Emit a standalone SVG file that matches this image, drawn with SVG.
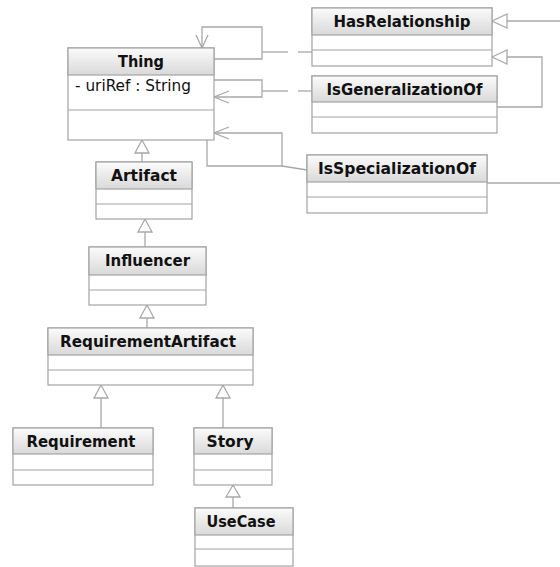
<svg xmlns="http://www.w3.org/2000/svg" width="560" height="567" viewBox="0 0 560 567">
  <defs>
    <linearGradient id="hdr" x1="0" y1="0" x2="0" y2="1">
      <stop offset="0" stop-color="#fbfbfb"/>
      <stop offset="1" stop-color="#d9d9d9"/>
    </linearGradient>
    <style>
      .box { fill: #ffffff; stroke: #a3a3a3; stroke-width: 1.2; }
      .head { fill: url(#hdr); stroke: #a3a3a3; stroke-width: 1.2; }
      .sep { stroke: #a3a3a3; stroke-width: 1.2; }
      .name { font-family: "DejaVu Sans", Verdana, sans-serif; font-weight: bold; font-size: 15px; fill: #111111; text-anchor: middle; }
      .attr { font-family: "DejaVu Sans", Verdana, sans-serif; font-size: 15px; fill: #111111; }
      .edge { fill: none; stroke: #a8a8a8; stroke-width: 1.3; }
      .tri { fill: #ffffff; stroke: #a8a8a8; stroke-width: 1.3; }
    </style>
  </defs>

  <rect width="560" height="567" fill="#ffffff"/>

  <!-- connectors -->
  <g id="connectors">
    <!-- Thing self association 1 (HasRelationship) -->
    <polyline class="edge" points="214,59 262,59 262,27 202,27 202,48"/>
    <polyline class="edge" points="196,35 202,48 208,35"/>
    <line class="edge" x1="262" y1="52" x2="288" y2="52"/>
    <line class="edge" x1="298" y1="52" x2="312" y2="52"/>
    <!-- Thing self association 2 (IsGeneralizationOf) -->
    <polyline class="edge" points="214,80 262,80 262,97 214,97"/>
    <polyline class="edge" points="229,91 214,97 229,103"/>
    <line class="edge" x1="262" y1="91" x2="288" y2="91"/>
    <line class="edge" x1="298" y1="91" x2="312" y2="91"/>
    <!-- Thing self association 3 (IsSpecializationOf) -->
    <polyline class="edge" points="207,140 207,166 282,166 282,133 214,133"/>
    <polyline class="edge" points="229,127 214,133 229,139"/>
    <line class="edge" x1="282" y1="166" x2="307" y2="170"/>

    <!-- generalizations -->
    <line class="edge" x1="142" y1="153" x2="142" y2="162"/>
    <polygon class="tri" points="142,140 135,153 149,153"/>
    <line class="edge" x1="145" y1="232" x2="145" y2="247"/>
    <polygon class="tri" points="145,219 138,232 152,232"/>
    <line class="edge" x1="147" y1="318" x2="147" y2="328"/>
    <polygon class="tri" points="147,305 140,318 154,318"/>
    <line class="edge" x1="101" y1="398" x2="101" y2="428"/>
    <polygon class="tri" points="101,385 94,398 108,398"/>
    <line class="edge" x1="223" y1="398" x2="223" y2="428"/>
    <polygon class="tri" points="223,385 216,398 230,398"/>
    <line class="edge" x1="233" y1="497" x2="233" y2="508"/>
    <polygon class="tri" points="233,485 226,497 240,497"/>

    <line class="edge" x1="507" y1="21" x2="560" y2="21"/>
    <polygon class="tri" points="492,21 507,14 507,28"/>
    <polyline class="edge" points="507,57 542,57 542,107 497,107"/>
    <polygon class="tri" points="492,57 507,50 507,64"/>
    <line class="edge" x1="487" y1="183" x2="560" y2="183"/>
  </g>

  <!-- classes -->
  <g id="HasRelationship">
    <rect class="box" x="312" y="8" width="180" height="58"/>
    <rect class="head" x="312" y="8" width="180" height="27"/>
    <line class="sep" x1="312" y1="50" x2="492" y2="50"/>
    <text class="name" x="402" y="27" textLength="137" lengthAdjust="spacingAndGlyphs">HasRelationship</text>
  </g>

  <g id="IsGeneralizationOf">
    <rect class="box" x="312" y="76" width="185" height="57"/>
    <rect class="head" x="312" y="76" width="185" height="26"/>
    <line class="sep" x1="312" y1="117" x2="497" y2="117"/>
    <text class="name" x="404.5" y="95" textLength="156" lengthAdjust="spacingAndGlyphs">IsGeneralizationOf</text>
  </g>

  <g id="IsSpecializationOf">
    <rect class="box" x="307" y="155" width="180" height="58"/>
    <rect class="head" x="307" y="155" width="180" height="27"/>
    <line class="sep" x1="307" y1="197" x2="487" y2="197"/>
    <text class="name" x="397" y="174" textLength="158" lengthAdjust="spacingAndGlyphs">IsSpecializationOf</text>
  </g>

  <g id="Thing">
    <rect class="box" x="68" y="48" width="146" height="92"/>
    <rect class="head" x="68" y="48" width="146" height="27"/>
    <line class="sep" x1="68" y1="110" x2="214" y2="110"/>
    <text class="name" x="141" y="67" textLength="46" lengthAdjust="spacingAndGlyphs">Thing</text>
    <text class="attr" x="75" y="91" textLength="116" lengthAdjust="spacingAndGlyphs">- uriRef : String</text>
  </g>

  <g id="Artifact">
    <rect class="box" x="96" y="162" width="96" height="57"/>
    <rect class="head" x="96" y="162" width="96" height="27"/>
    <line class="sep" x1="96" y1="204" x2="192" y2="204"/>
    <text class="name" x="144" y="181" textLength="66" lengthAdjust="spacingAndGlyphs">Artifact</text>
  </g>

  <g id="Influencer">
    <rect class="box" x="89" y="247" width="117" height="58"/>
    <rect class="head" x="89" y="247" width="117" height="28"/>
    <line class="sep" x1="89" y1="290" x2="206" y2="290"/>
    <text class="name" x="147.5" y="266" textLength="85" lengthAdjust="spacingAndGlyphs">Influencer</text>
  </g>

  <g id="RequirementArtifact">
    <rect class="box" x="48" y="328" width="205" height="57"/>
    <rect class="head" x="48" y="328" width="205" height="27"/>
    <line class="sep" x1="48" y1="370" x2="253" y2="370"/>
    <text class="name" x="148" y="347" textLength="176" lengthAdjust="spacingAndGlyphs">RequirementArtifact</text>
  </g>

  <g id="Requirement">
    <rect class="box" x="13" y="428" width="140" height="57"/>
    <rect class="head" x="13" y="428" width="140" height="26"/>
    <line class="sep" x1="13" y1="470" x2="153" y2="470"/>
    <text class="name" x="81" y="447" textLength="109" lengthAdjust="spacingAndGlyphs">Requirement</text>
  </g>

  <g id="Story">
    <rect class="box" x="194" y="428" width="78" height="57"/>
    <rect class="head" x="194" y="428" width="78" height="26"/>
    <line class="sep" x1="194" y1="470" x2="272" y2="470"/>
    <text class="name" x="230" y="447" textLength="47" lengthAdjust="spacingAndGlyphs">Story</text>
  </g>

  <g id="UseCase">
    <rect class="box" x="195" y="508" width="98" height="58"/>
    <rect class="head" x="195" y="508" width="98" height="27"/>
    <line class="sep" x1="195" y1="549" x2="293" y2="549"/>
    <text class="name" x="241" y="527" textLength="69" lengthAdjust="spacingAndGlyphs">UseCase</text>
  </g>
</svg>
